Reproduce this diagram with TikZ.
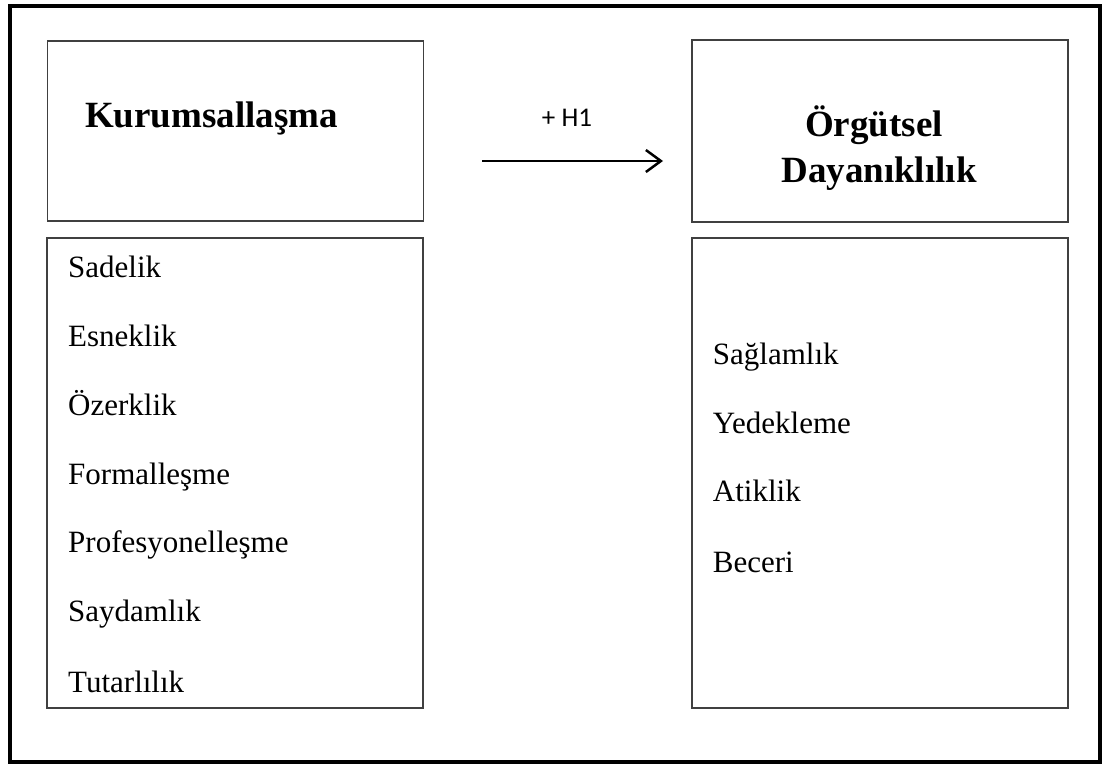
\documentclass[tikz,border=0pt]{standalone}
\usepackage{fontspec}
\setmainfont{Liberation Serif}
\newfontfamily\calib{Carlito}
\usetikzlibrary{arrows.meta}
\begin{document}
\begin{tikzpicture}[x=1pt,y=-1pt,
  box/.style={draw=black!75,line width=1.3pt,minimum width=376pt,inner sep=0pt},
  head/.style={font=\fontsize{37}{46}\selectfont\bfseries,inner sep=0pt,align=center},
  item/.style={font=\fontsize{31}{36}\selectfont,inner sep=0pt,anchor=base west},
  lbl/.style={font=\calib\fontsize{27}{30}\selectfont,inner sep=0pt}]
\useasboundingbox (0,0) rectangle (1102,765);
\draw[line width=4pt] (10,6) rectangle (1100,762);
% boxes
\node[box,minimum height=180pt] (lt) at (235.5,131) {};
\node[box,minimum height=470pt] (lb) at (235,473) {};
\node[box,minimum height=182pt] (rt) at (880,131) {};
\node[box,minimum height=470pt] (rb) at (880,473) {};
% headings
\node[head,anchor=base west] (kur) at (85,128) {Kurumsallaşma};
\node[head,anchor=base] (org) at (874,136) {Örgütsel};
\node[head,anchor=base] (day) at (879,182) {Dayanıklılık};
% left items
\node[item] (i1) at (68,277.7) {Sadelik};
\node[item] (i2) at (68,346.7) {Esneklik};
\node[item] (i3) at (68,415) {Özerklik};
\node[item] (i4) at (68,484) {Formalleşme};
\node[item] (i5) at (68,552.7) {Profesyonelleşme};
\node[item] (i6) at (68,621.7) {Saydamlık};
\node[item] (i7) at (68,692) {Tutarlılık};
% right items
\node[item] (j1) at (712.7,364) {Sağlamlık};
\node[item] (j2) at (712.7,433) {Yedekleme};
\node[item] (j3) at (712.7,501.7) {Atiklik};
\node[item] (j4) at (712.7,572.7) {Beceri};
% arrow
\coordinate (a1) at (482,161);
\coordinate (a2) at (663,161);
\draw[line width=2.5pt,-{Straight Barb[length=15pt,width=22pt,line width=2.5pt]}] (a1) -- (a2);
\node[lbl,anchor=base] (h1) at (567,126) {+ H1};
\end{tikzpicture}
\end{document}
